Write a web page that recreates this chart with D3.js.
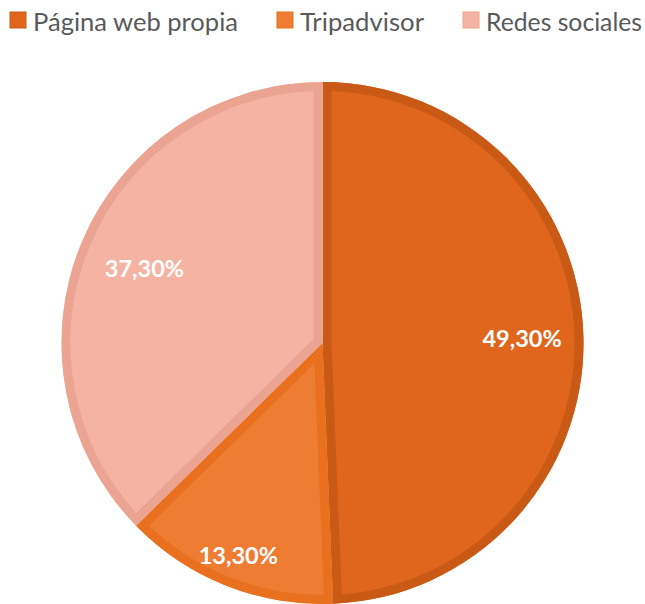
<!DOCTYPE html>
<html>
<head>
<meta charset="utf-8">
<script src="https://cdn.jsdelivr.net/npm/d3@7"></script>
<style>
  html, body { margin: 0; padding: 0; background: #fff; }
</style>
</head>
<body>
<div id="chart"></div>
<script>
// datos
const categories = ['Página web propia', 'Tripadvisor', 'Redes sociales'];
const values = [49.3, 13.3, 37.3];
const valueLabels = ['49,30%', '13,30%', '37,30%'];

const fills = ['#DF661C', '#EE7C33', '#F5B3A3'];
const borders = ['#C95A16', '#E8701F', '#EBA492'];
// posición radial de cada etiqueta (fracción del radio)
const labelPos = [0.765, 0.875, 0.74];

const width = 645, height = 604;
const cx = 322.5, cy = 343, R = 261;

const svg = d3.select('#chart').append('svg')
    .attr('width', width)
    .attr('height', height)
    .style('font-family', 'Lato, "Open Sans", sans-serif');

const pie = d3.pie().sort(null).value(d => d);
const arcs = pie(values);
const arc = d3.arc().innerRadius(0).outerRadius(R);

const g = svg.append('g').attr('transform', `translate(${cx},${cy})`);

// clip por sector para que el borde quede dentro
const defs = svg.append('defs');
arcs.forEach((a, i) => {
    defs.append('clipPath').attr('id', 'clip' + i)
        .append('path').attr('d', arc(a));
});

const slice = g.selectAll('g.slice')
    .data(arcs)
    .join('g')
    .attr('class', 'slice');

slice.append('path')
    .attr('d', arc)
    .attr('fill', (d, i) => fills[i]);

slice.append('path')
    .attr('d', arc)
    .attr('fill', 'none')
    .attr('stroke', (d, i) => borders[i])
    .attr('stroke-width', 18)
    .attr('stroke-linejoin', 'miter')
    .attr('clip-path', (d, i) => `url(#clip${i})`);

// etiquetas de valor
slice.append('text')
    .attr('transform', (d, i) => {
        const r = R * labelPos[i];
        const c = d3.arc().innerRadius(r).outerRadius(r).centroid(d);
        return `translate(${c[0]},${c[1]})`;
    })
    .attr('text-anchor', 'middle')
    .attr('dy', '0.36em')
    .attr('fill', '#fff')
    .attr('font-weight', 'bold')
    .attr('font-size', 23.5)
    .text((d, i) => valueLabels[i]);

// leyenda
const legendX = [10, 277, 463];
const legendW = [205, 124, 156];
const legend = svg.append('g').selectAll('g')
    .data(categories)
    .join('g')
    .attr('transform', (d, i) => `translate(${legendX[i]},12)`);

legend.append('rect')
    .attr('width', 16)
    .attr('height', 16)
    .attr('fill', (d, i) => fills[i])
    .attr('stroke', (d, i) => borders[i])
    .attr('stroke-width', 1);

legend.append('text')
    .attr('x', 23)
    .attr('y', 19)
    .attr('font-size', 25)
    .attr('fill', '#595959')
    .attr('textLength', (d, i) => legendW[i])
    .attr('lengthAdjust', 'spacingAndGlyphs')
    .text(d => d);
</script>
</body>
</html>
